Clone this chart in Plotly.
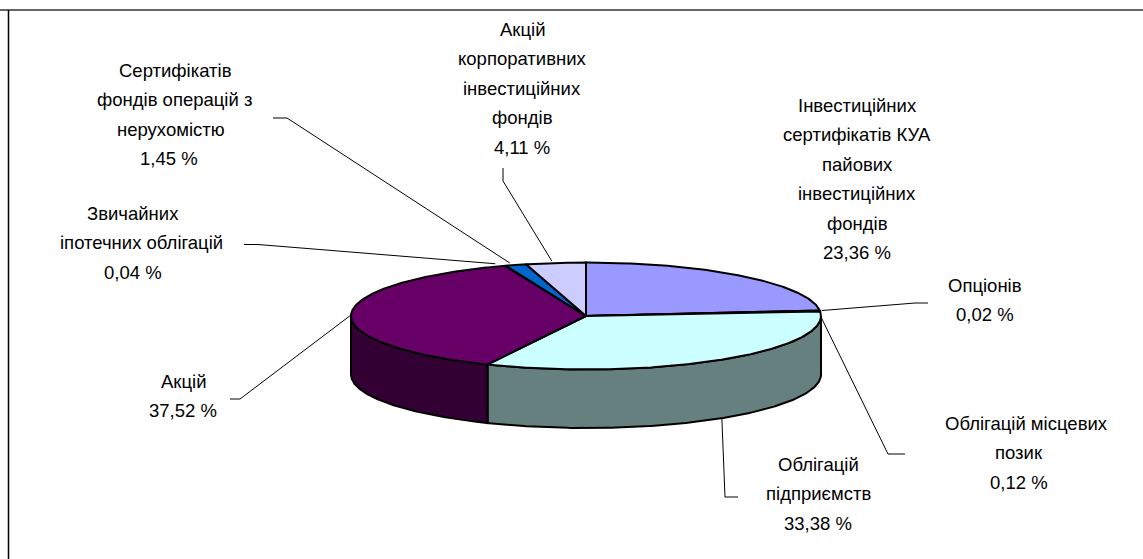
import math
import plotly.graph_objects as go

# ---- data (clockwise from 12 o'clock) ----
categories = ["Інвестиційних сертифікатів КУА пайових інвестиційних фондів", "Опціонів",
              "Облігацій місцевих позик", "Облігацій підприємств", "Акцій",
              "Звичайних іпотечних облігацій", "Сертифікатів фондів операцій з нерухомістю",
              "Акцій корпоративних інвестиційних фондів"]
values = [23.36, 0.02, 0.12, 33.38, 37.52, 0.04, 1.45, 4.11]
value_labels = ["23,36 %", "0,02 %", "0,12 %", "33,38 %", "37,52 %", "0,04 %", "1,45 %", "4,11 %"]
label_lines = [
    ["Інвестиційних", "сертифікатів КУА", "пайових", "інвестиційних", "фондів"],
    ["Опціонів"],
    ["Облігацій місцевих", "позик"],
    ["Облігацій", "підприємств"],
    ["Акцій"],
    ["Звичайних", "іпотечних облігацій"],
    ["Сертифікатів", "фондів операцій з", "нерухомістю"],
    ["Акцій", "корпоративних", "інвестиційних", "фондів"],
]

# ---- styles / layout ----
top_colors = ["#9999FF", "#993366", "#FFFFCC", "#CCFFFF", "#660066", "#FF8080", "#0066CC", "#CCCCFF"]
wall_colors = {3: "#667F7F", 4: "#330033"}
W, H = 1143, 559
CX, CY, RX, RY, DEPTH = 586, 316, 235, 53.5, 58.5
LINE_STEP = 29.5
FONT_SIZE = 18.5
label_pos = [(857, 105), (985, 285), (1026, 423), (818, 464), (183, 381), (133, 213), (174, 70), (522, 29)]
label_line_dx = [[0] * 6, [0, 0], [0, -7, -7], [0, 0, 0], [0, 0], [0, 8, 0], [1, 0, -3, -5], [0] * 5]
leader_elbows = [None, [(928, 303), (915, 303)], [(905, 454), (888, 454)], [(738, 497), (725, 497)],
                 [(230, 399), (240, 399)], [(244, 244.5), (258, 244.5)], [(273, 118), (287, 118)],
                 [(503, 168), (503, 181)]]
leader_nudge = [None, (2, 0), (1, 6), (0, 0), (0, 1), (-10, -2), (-6, -2), (-4, -2)]


def pt(deg, drop=0.0):
    a = math.radians(deg)
    return CX + RX * math.sin(a), CY - RY * math.cos(a) + drop


def arc(a0, a1, drop=0.0):
    n = max(2, int(abs(a1 - a0) * 2) + 2)
    return [pt(a0 + (a1 - a0) * i / (n - 1), drop) for i in range(n)]


def poly(points, fill, width=2.0):
    xs, ys = zip(*points)
    return go.Scatter(x=xs, y=ys, mode="lines", fill="toself", fillcolor=fill,
                      line=dict(color="#000000", width=width), hoverinfo="skip", showlegend=False)


total = sum(values)
edges = [0.0]
for v in values:
    edges.append(edges[-1] + v / total * 360)

fig = go.Figure()

# side walls: only the part facing the viewer (90..270 degrees)
for i, col in wall_colors.items():
    a0, a1 = max(edges[i], 90), min(edges[i + 1], 270)
    fig.add_trace(poly(arc(a0, a1) + arc(a1, a0, DEPTH) + [pt(a0)], col))

# top slices
for i, col in enumerate(top_colors):
    pts = [(CX, CY)] + arc(edges[i], edges[i + 1]) + [(CX, CY)]
    fig.add_trace(poly(pts, col))

# leader lines, anchored at the slice mid-angle
for i, elbows in enumerate(leader_elbows):
    if elbows is None:
        continue
    mid = (edges[i] + edges[i + 1]) / 2
    drop = DEPTH if 90 < mid < 270 else 0
    ax, ay = pt(mid, drop)
    dx, dy = leader_nudge[i]
    pts = elbows + [(ax + dx, ay + dy)]
    xs, ys = zip(*pts)
    fig.add_trace(go.Scatter(x=xs, y=ys, mode="lines", line=dict(color="#000000", width=1),
                             hoverinfo="skip", showlegend=False))

# labels, one annotation per text line for the wide line pitch
annotations = []
for i, (lines, vl) in enumerate(zip(label_lines, value_labels)):
    x, y = label_pos[i]
    for j, t in enumerate(lines + [vl]):
        annotations.append(dict(x=x + label_line_dx[i][j], y=y + j * LINE_STEP, xref="x", yref="y", text=t,
                                showarrow=False, xanchor="center", yanchor="middle",
                                font=dict(family="Liberation Sans", size=FONT_SIZE, color="#000000")))

shapes = [
    dict(type="line", x0=0, x1=W, y0=10, y1=10, xref="x", yref="y", line=dict(color="#666666", width=2)),
    dict(type="line", x0=8.5, x1=8.5, y0=10, y1=H, xref="x", yref="y", line=dict(color="#000000", width=1.5)),
]

fig.update_layout(
    width=W, height=H, margin=dict(l=0, r=0, t=0, b=0),
    paper_bgcolor="#ffffff", plot_bgcolor="#ffffff", showlegend=False,
    xaxis=dict(range=[0, W], visible=False, fixedrange=True),
    yaxis=dict(range=[H, 0], visible=False, fixedrange=True),
    annotations=annotations, shapes=shapes,
)

fig.write_html("out.html", config={"displayModeBar": False},
               post_script="document.body.style.margin='0';document.body.style.overflow='hidden';")
